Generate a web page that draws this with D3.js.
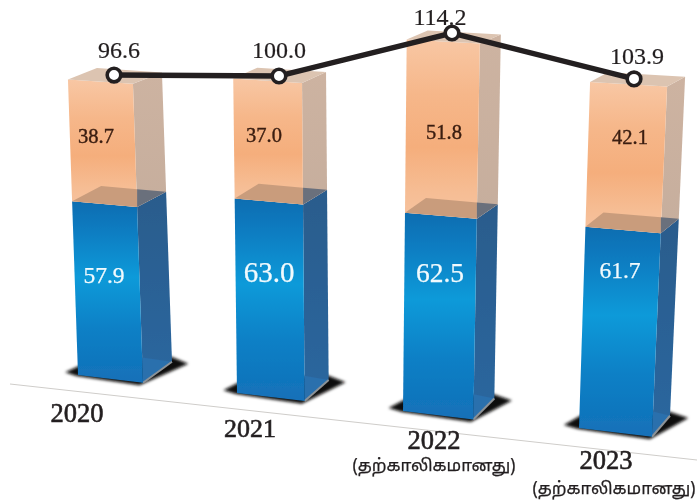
<!DOCTYPE html>
<html lang="ta">
<head>
<meta charset="utf-8">
<title>Chart</title>
<script src="https://d3js.org/d3.v7.min.js"></script>
<style>
  html, body { margin: 0; padding: 0; background: #fff; }
  svg { display: block; }
  text { font-family: "Liberation Serif", serif; }
</style>
</head>
<body>
<script>
// values
var years = ["2020", "2021", "2022", "2023"];
var blueValues = [57.9, 63.0, 62.5, 61.7];
var orangeValues = [38.7, 37.0, 51.8, 42.1];
var totals = [96.6, 100.0, 114.2, 103.9];
var provisional = ["", "", "(தற்காலிகமானது)", "(தற்காலிகமானது)"];

var width = 697, height = 501;
var idx = [0, 1, 2, 3];

// the picture is a tilted 3d drawing, so every bar gets its own scale along the index
var baseX = d3.scaleLinear().domain(idx).range([78, 237, 403, 579]);
var baseY = d3.scaleLinear().domain(idx).range([375, 393, 411, 428]);
var blueK = d3.scaleLinear().domain([0, 3]).range([3.0, 3.26]);
var orangeK = d3.scaleLinear().domain([0, 3]).range([3.15, 3.44]);
var lean = d3.scaleLinear().domain([0, 3]).range([-0.034, 0.032]);    // x drift per px of height
var frontW = d3.scaleLinear().domain([0, 3]).range([65, 73]);
var widen = d3.scaleLinear().domain([0, 3]).range([0, 0.0016]);
var sideDx = d3.scaleLinear().domain(idx).range([29, 24, 21, 18]);
var slope = d3.scaleLinear().domain([0, 400]).range([0.12, 0.05]);    // front edge fall, by height
var depthY = d3.scaleLinear().domain([0, 400]).range([-21, -8]);      // depth rise, by height

var lineX = d3.scaleLinear().domain(idx).range([114, 279, 452, 634]);
var lineK = d3.scaleLinear().domain(idx).range([3.105, 3.17, 3.31, 3.36]);

function pxHeight(i, blue, orange) {
  return blue * blueK(i) + orange * orangeK(i);
}

// u runs across the front face, d runs into the picture
function project(i, h, u, d) {
  var w = frontW(i) * (1 + widen(i) * h / 10);
  return [
    baseX(i) + lean(i) * h + u * w + d * sideDx(i),
    baseY(i) - h + u * w * slope(h) + d * depthY(h)
  ];
}

function poly(i, h0, h1, corners) {
  return corners.map(function (c) {
    return project(i, c[2] ? h1 : h0, c[0], c[1]).join(",");
  }).join(" ");
}

var svg = d3.select("body").append("svg")
  .attr("width", width)
  .attr("height", height);

var defs = svg.append("defs");

function gradient(id, stops) {
  var g = defs.append("linearGradient").attr("id", id)
    .attr("x1", 0).attr("y1", 0).attr("x2", 0).attr("y2", 1);
  stops.forEach(function (s) {
    g.append("stop").attr("offset", s[0]).attr("stop-color", s[1]);
  });
}
gradient("orangeFront", [[0, "#f8c7a4"], [0.3, "#f6b78a"], [0.6, "#f5ae7c"], [0.85, "#f6bd94"], [1, "#f6c3a0"]]);
gradient("orangeSide", [[0, "#cdb3a1"], [1, "#c6ae9d"]]);
gradient("blueFront", [[0, "#0f6db1"], [0.15, "#0c7bc0"], [0.42, "#0a9ad9"], [0.7, "#0b80c6"], [1, "#1470b8"]]);
gradient("blueSide", [[0, "#2a5c8c"], [1, "#2a679f"]]);

defs.append("filter").attr("id", "soft")
  .attr("x", "-30%").attr("y", "-60%").attr("width", "160%").attr("height", "220%")
  .append("feGaussianBlur").attr("stdDeviation", 1.6);
defs.append("filter").attr("id", "print")
  .append("feGaussianBlur").attr("stdDeviation", 0.4);

// floor line follows the base of the bars
var floorY = d3.scaleLinear().domain([10, 697]).range([384, 460]);
svg.append("line")
  .attr("x1", 10).attr("x2", 697)
  .attr("y1", floorY(10)).attr("y2", floorY(697))
  .attr("stroke", "#cfcdca").attr("stroke-width", 1);

var bars = svg.append("g").attr("filter", "url(#print)")
  .selectAll("g").data(years).join("g");

bars.each(function (year, i) {
  var g = d3.select(this);
  var hBlue = blueValues[i] * blueK(i);
  var hTop = pxHeight(i, blueValues[i], orangeValues[i]);

  // shadow on the floor
  var shadow = [[-0.22, 0.05], [0, -0.05], [1, -0.12], [1.25, 1], [0.9, 1.2], [-0.1, 0.6]];
  g.append("polygon")
    .attr("points", shadow.map(function (c) { return project(i, 0, c[0], c[1]).join(","); }).join(" "))
    .attr("fill", "#0d0b0a").attr("filter", "url(#soft)");

  // blue block: side, floor seen through it, front
  g.append("polygon").attr("points", poly(i, 0, hBlue, [[1, 0, 0], [1, 1, 0], [1, 1, 1], [1, 0, 1]]))
    .attr("fill", "url(#blueSide)");
  g.append("polygon").attr("points", [project(i, 25, 1, 0), project(i, 0, 1, 1), project(i, 0, 1, 0)].join(" "))
    .attr("fill", "#2a6fad");
  g.append("line")
    .attr("x1", project(i, 0, 1, 0)[0]).attr("y1", project(i, 0, 1, 0)[1])
    .attr("x2", project(i, 0, 1, 1)[0]).attr("y2", project(i, 0, 1, 1)[1])
    .attr("stroke", "#8c9297").attr("stroke-width", 2);
  g.append("polygon").attr("points", poly(i, 0, hBlue, [[0, 0, 0], [1, 0, 0], [1, 0, 1], [0, 0, 1]]))
    .attr("fill", "url(#blueFront)");

  // orange block: side, front, top
  g.append("polygon").attr("points", poly(i, hBlue, hTop, [[1, 0, 0], [1, 1, 0], [1, 1, 1], [1, 0, 1]]))
    .attr("fill", "url(#orangeSide)");
  g.append("polygon").attr("points", poly(i, hBlue, hTop, [[0, 0, 0], [1, 0, 0], [1, 0, 1], [0, 0, 1]]))
    .attr("fill", "url(#orangeFront)");

  // top of the blue seen through the orange: tan behind the front, grey behind the side
  var w = project(i, hBlue, 1, 0)[0] - project(i, hBlue, 0, 0)[0];
  var cut = 1 - sideDx(i) / w;
  g.append("polygon").attr("points", poly(i, hBlue, hBlue, [[0, 0, 0], [1, 0, 0], [cut, 1, 0], [0, 1, 0]]))
    .attr("fill", "#c99c7c");
  g.append("polygon").attr("points", poly(i, hBlue, hBlue, [[1, 0, 0], [1, 1, 0], [cut, 1, 0]]))
    .attr("fill", "#6b707c");

  g.append("polygon").attr("points", poly(i, hTop, hTop, [[0, 0, 0], [1, 0, 0], [1, 1, 0], [0, 1, 0]]))
    .attr("fill", "#dcc4b1");
});

// total line
var line = d3.line()
  .x(function (d, i) { return lineX(i); })
  .y(function (d, i) { return baseY(i) - d * lineK(i); });

svg.append("path")
  .datum(totals)
  .attr("d", line)
  .attr("fill", "none")
  .attr("stroke", "#231f20")
  .attr("stroke-width", 5.5);

svg.selectAll("circle.total").data(totals).join("circle")
  .attr("class", "total")
  .attr("cx", function (d, i) { return lineX(i); })
  .attr("cy", function (d, i) { return baseY(i) - d * lineK(i); })
  .attr("r", 6.8)
  .attr("fill", "#fff")
  .attr("stroke", "#231f20")
  .attr("stroke-width", 3.6);

// labels sit where the artist placed them, so they get their own offsets from the bar
function label(cls, values, fmt, dx, dy, size, color, extra) {
  svg.selectAll("text." + cls).data(values).join("text")
    .attr("class", cls)
    .attr("text-anchor", "middle")
    .attr("x", function (d, i) { return dx[i]; })
    .attr("y", function (d, i) { return dy[i]; })
    .attr("font-size", function (d, i) { return size[i]; })
    .attr("fill", color)
    .attr("stroke", extra ? color : "none")
    .attr("stroke-width", extra || 0)
    .text(fmt);
}
var f1 = d3.format(".1f");
label("totalLabel", totals, f1, [119, 279, 440, 637], [58, 58, 25, 64], [24, 24, 24, 24], "#231f20", 0.2);
label("orangeLabel", orangeValues, f1, [96, 264, 444, 630], [143, 142, 139, 144], [20.5, 20.5, 20.5, 20.5], "#3a1d10", 0.4);
label("blueLabel", blueValues, f1, [104, 269, 440, 620], [283, 282, 282, 278], [23.5, 29, 27.5, 23.5], "#f2fafd", 0.25);
label("yearLabel", years, function (d) { return d; }, [77, 250, 434, 606], [422, 437, 449, 469], [26.5, 26, 26.5, 26.5], "#231f20", 0.6);
label("provLabel", provisional, function (d) { return d; }, [0, 0, 434, 614], [0, 0, 471, 494], [17, 17, 17, 17], "#231f20", 0.25);
svg.selectAll("text.provLabel").style("font-family", "'Noto Sans Tamil', 'Noto Sans', 'DejaVu Sans', serif");
</script>
</body>
</html>
